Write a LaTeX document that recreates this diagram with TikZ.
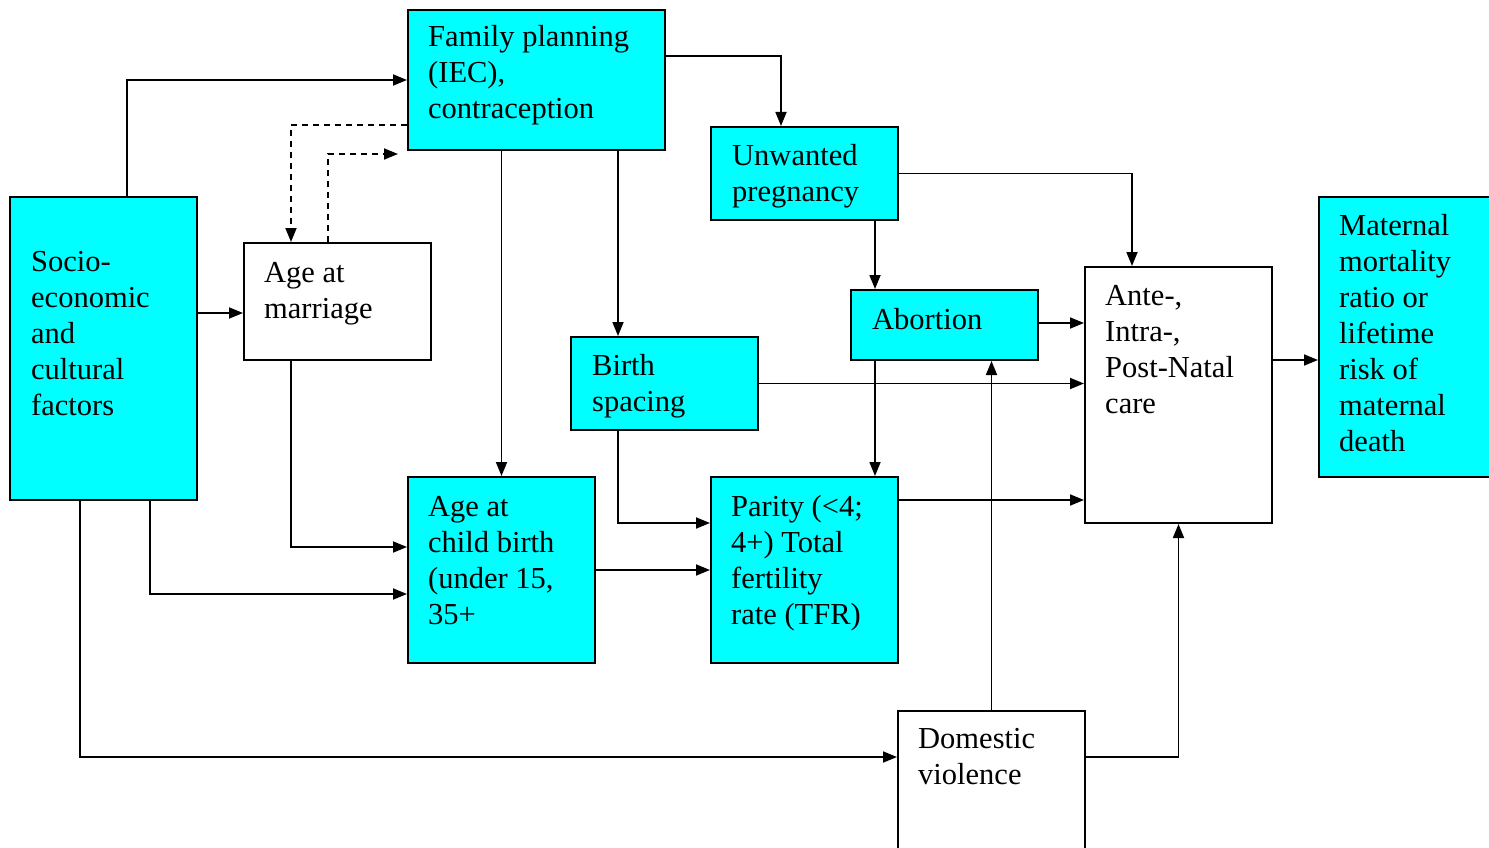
\documentclass[tikz,border=0pt]{standalone}
\usepackage{fontspec}
\setmainfont{Liberation Serif}
\usetikzlibrary{arrows.meta}

\newcommand{\boxtext}[1]{\parbox[t]{300pt}{\raggedright #1}}

\begin{document}
\begin{tikzpicture}[x=1pt,y=-1pt,
  cbox/.style={draw,line width=2pt,fill={rgb,255:red,0;green,255;blue,255},inner sep=0,minimum width=187,minimum height=#1},
  wbox/.style={draw,line width=2pt,fill=white,inner sep=0,minimum width=187,minimum height=#1},
  txt/.style={anchor=base west,inner sep=0,font=\fontsize{30.5}{36}\selectfont},
  arr/.style={line width=1.8pt,-{Triangle[length=14pt,width=11pt]}},
  darr/.style={arr,dash pattern=on 6pt off 5pt}]
\useasboundingbox (0,0) rectangle (1489,848);
\clip (0,0) rectangle (1489,848);
% boxes
\node[cbox=303] (soc) at (103.5,348.5) {};
\node[cbox=140,minimum width=257] (fp) at (536.5,80) {};
\node[cbox=93] (unw) at (804.5,173.5) {};
\node[wbox=117] (agm) at (337.5,301.5) {};
\node[cbox=93] (bsp) at (664.5,383.5) {};
\node[cbox=70] (abo) at (944.5,325) {};
\node[wbox=256] (anc) at (1178.5,395) {};
\node[cbox=280] (mmr) at (1412.5,337) {};
\node[cbox=186] (acb) at (501.5,570) {};
\node[cbox=186] (par) at (804.5,570) {};
\node[wbox=186] (dv) at (991.5,804) {};
% texts
\node[txt] (soct) at (31,271) {\boxtext{Socio-\\economic\\and\\cultural\\factors}};
\node[txt] (fpt) at (428,47) {\boxtext{Family planning\\(IEC),\\contraception}};
\node[txt] (unwt) at (732,165) {\boxtext{Unwanted\\pregnancy}};
\node[txt] (agmt) at (264,282) {\boxtext{Age at\\marriage}};
\node[txt] (bspt) at (592,375) {\boxtext{Birth\\spacing}};
\node[txt] (abot) at (872,329) {\boxtext{Abortion}};
\node[txt] (anct) at (1105,305) {\boxtext{Ante-,\\Intra-,\\Post-Natal\\care}};
\node[txt] (mmrt) at (1339,235) {\boxtext{Maternal\\mortality\\ratio or\\lifetime\\risk of\\maternal\\death}};
\node[txt] (acbt) at (428,516) {\boxtext{Age at\\child birth\\(under 15,\\35+}};
\node[txt] (part) at (731,516) {\boxtext{Parity (<4;\\4+) Total\\fertility\\rate (TFR)}};
\node[txt] (dvt) at (918,748) {\boxtext{Domestic\\violence}};
\coordinate (dtip) at (398,154);
% connectors
\draw[arr] (soc.north -| 127,0) |- (fp.west);
\draw[darr] (fp.west |- 0,125) -| (agm.north -| 291,0);
\draw[darr] (agm.north -| 328,0) |- (dtip);
\draw[arr] (soc.east |- 0,313) -- (agm.west |- 0,313);
\draw[arr] (fp.south -| acb.north) -- (acb.north);
\draw[arr] (fp.south -| 618,0) -- (bsp.north -| 618,0);
\draw[arr] (fp.east |- 0,56) -| (unw.north -| 781,0);
\draw[arr] (unw.east) -| (anc.north -| 1132,0);
\draw[arr] (unw.south -| 875,0) -- (abo.north -| 875,0);
\draw[arr] (abo.east |- 0,323) -- (anc.west |- 0,323);
\draw[arr] (bsp.east) -- (anc.west |- bsp.east);
\draw[arr] (abo.south -| 875,0) -- (par.north -| 875,0);
\draw[arr] (bsp.south -| 618,0) |- (par.west |- 0,523);
\draw[arr] (par.east |- 0,500) -- (anc.west |- 0,500);
\draw[arr] (agm.south -| 291,0) |- (acb.west |- 0,547);
\draw[arr] (soc.south -| 150,0) |- (acb.west |- 0,594);
\draw[arr] (acb.east) -- (par.west);
\draw[arr] (soc.south -| 80,0) |- (dv.west |- 0,757);
\draw[arr] (dv.north) -- (abo.south -| dv.north);
\draw[arr] (dv.east |- 0,757) -| (anc.south);
\draw[arr] (anc.east |- 0,360) -- (mmr.west |- 0,360);
\end{tikzpicture}
\end{document}
